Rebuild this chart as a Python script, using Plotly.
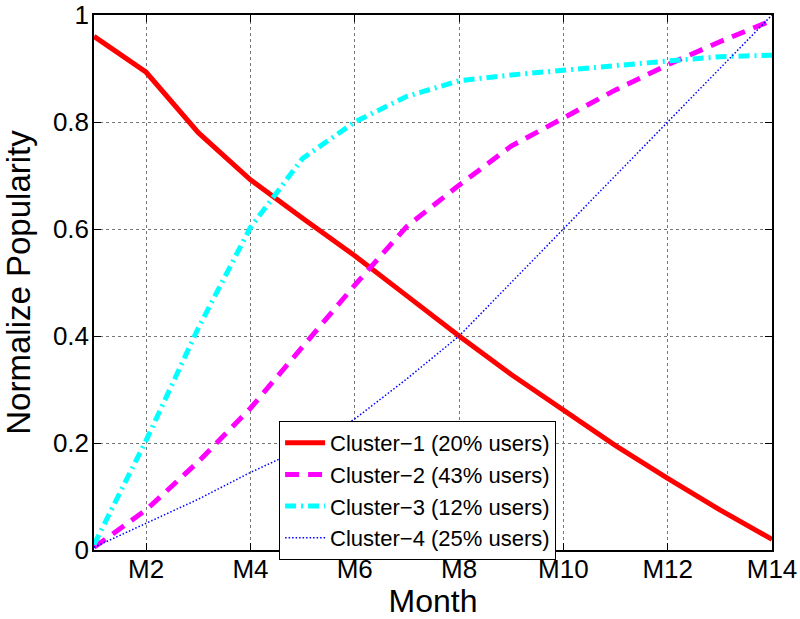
import plotly.graph_objects as go

months = list(range(1, 15))
tick_vals = [2, 4, 6, 8, 10, 12, 14]
tick_text = ["M2", "M4", "M6", "M8", "M10", "M12", "M14"]
y_tick_vals = [0, 0.2, 0.4, 0.6, 0.8, 1.0]
y_tick_text = ["0", "0.2", "0.4", "0.6", "0.8", "1"]

cluster1 = [0.96, 0.893, 0.78, 0.692, 0.62, 0.55, 0.475, 0.40, 0.328, 0.262, 0.195, 0.134, 0.075, 0.02]
cluster2 = [0.005, 0.075, 0.165, 0.265, 0.38, 0.495, 0.605, 0.682, 0.755, 0.807, 0.86, 0.907, 0.95, 0.99]
cluster3 = [0.01, 0.205, 0.415, 0.603, 0.732, 0.80, 0.848, 0.877, 0.888, 0.897, 0.907, 0.914, 0.922, 0.925]
cluster4 = [0.005, 0.05, 0.095, 0.145, 0.19, 0.245, 0.32, 0.40, 0.50, 0.60, 0.70, 0.80, 0.90, 1.0]

names = ["Cluster\u22121 (20% users)", "Cluster\u22122 (43% users)",
         "Cluster\u22123 (12% users)", "Cluster\u22124 (25% users)"]

FONT = "Liberation Sans, Arial, Helvetica, sans-serif"

fig = go.Figure()
fig.add_trace(go.Scatter(x=months, y=cluster1, mode="lines", name=names[0],
                         line=dict(color="#FF0000", width=5)))
fig.add_trace(go.Scatter(x=months, y=cluster2, mode="lines", name=names[1],
                         line=dict(color="#FF00FF", width=5, dash="14px,9px")))
fig.add_trace(go.Scatter(x=months, y=cluster3, mode="lines", name=names[2],
                         line=dict(color="#00FFFF", width=5, dash="11px,5px,2px,5px")))
fig.add_trace(go.Scatter(x=months, y=cluster4, mode="lines", name=names[3],
                         line=dict(color="#0000FF", width=1.5, dash="1.5px,2px")))

axis_common = dict(
    showline=True, linecolor="black", linewidth=1.5, mirror="ticks",
    ticks="inside", ticklen=7, tickcolor="black", tickwidth=1,
    showgrid=True, gridcolor="#777777", gridwidth=1, griddash="dot",
    zeroline=False, automargin=False,
    tickfont=dict(family=FONT, size=26, color="black"),
)

fig.update_xaxes(range=[1, 14], tickvals=tick_vals, ticktext=tick_text,
                 ticklabelstandoff=-5,
                 title=dict(text="Month", font=dict(family=FONT, size=32, color="black"), standoff=0),
                 **axis_common)
fig.update_yaxes(range=[0, 1], tickvals=y_tick_vals, ticktext=y_tick_text,
                 ticklabelstandoff=-2,
                 title=dict(text="Normalize Popularity", font=dict(family=FONT, size=33, color="black"), standoff=12),
                 **axis_common)

fig.update_layout(
    width=800, height=619,
    margin=dict(l=94, r=28, t=15, b=69),
    paper_bgcolor="white", plot_bgcolor="white",
    font=dict(family=FONT, color="black"),
    legend=dict(x=0.273, y=0.241, xanchor="left", yanchor="top",
                bordercolor="black", borderwidth=1, bgcolor="white",
                font=dict(family=FONT, size=22, color="black"),
                itemwidth=40, tracegroupgap=0),
)

fig.write_html("out.html", config={"displayModeBar": False},
               post_script="document.body.style.margin='0';document.body.style.overflow='hidden';")
